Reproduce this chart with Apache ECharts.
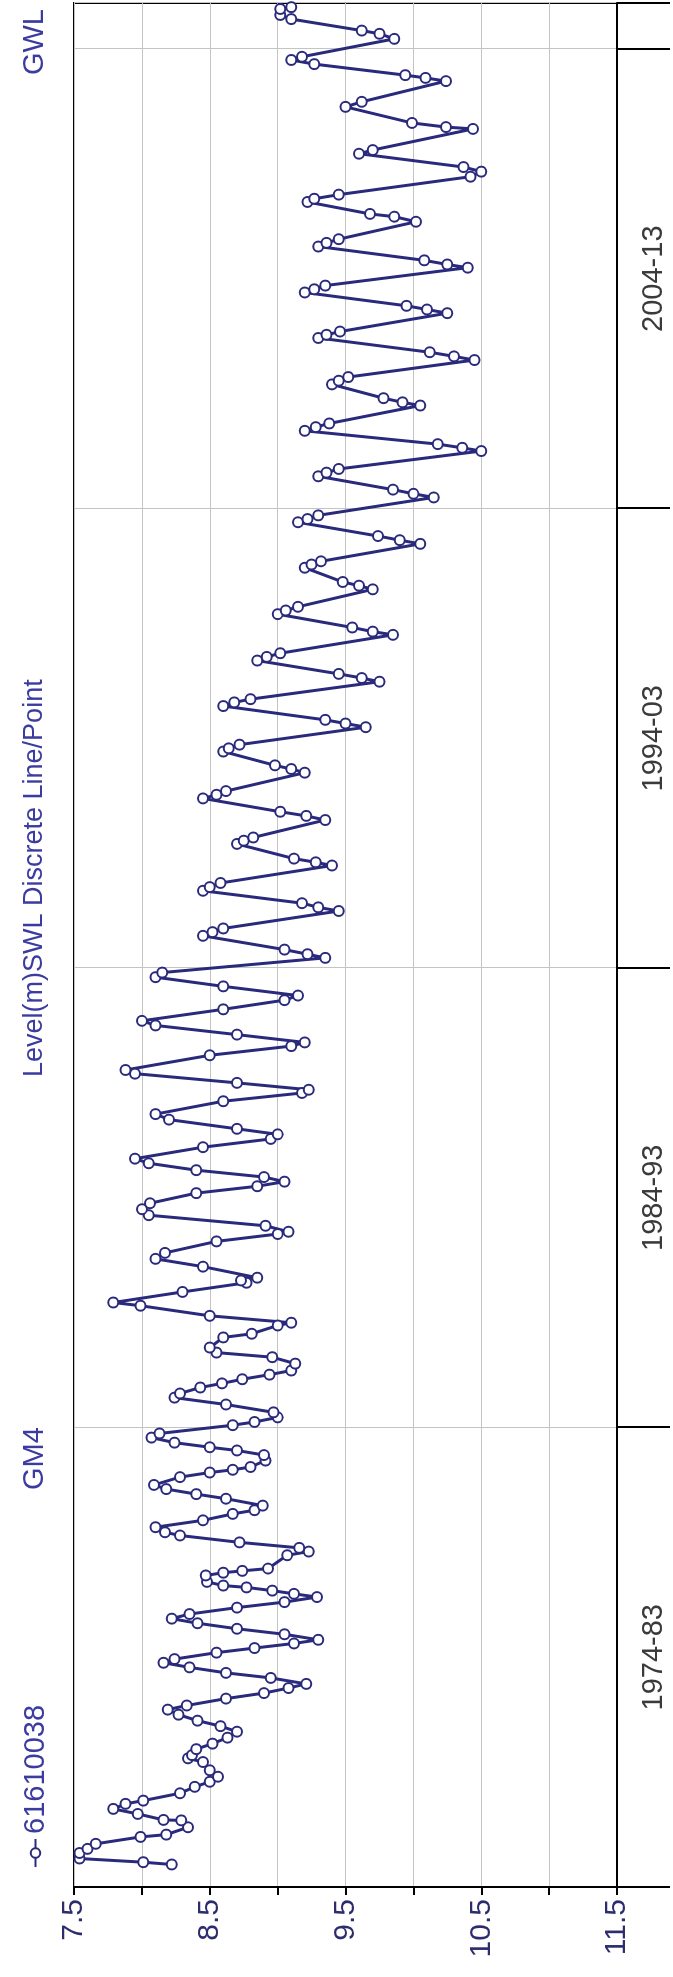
<!DOCTYPE html>
<html>
<head>
<meta charset="utf-8">
<script src="https://cdn.jsdelivr.net/npm/echarts@6/dist/echarts.min.js"></script>
<style>
  html, body { margin: 0; padding: 0; background: #fff; overflow: hidden; }
  #page { position: absolute; left: 0; top: 0; width: 673px; height: 1977px; overflow: hidden; background: #fff; }
  /* the hydrograph is laid out landscape and turned a quarter turn anticlockwise */
  #chart { position: absolute; left: 0; top: 0; width: 1977px; height: 673px;
           transform-origin: 0 0; transform: translate(0, 1977px) rotate(-90deg); }
</style>
</head>
<body>
<div id="page"><div id="chart"></div></div>
<script>
// ---- series: bore 61610038, standing water level (m below reference) ----
const siteName = '61610038';
const siteCode = 'GM4';
const variableName = 'Level(m)SWL Discrete Line/Point';
const groupName = 'GWL';

const startYear = 1974;
const endYear = 2015;
const decadeLabels = ['1974-83', '1984-93', '1994-03', '2004-13'];
const levelLabels = ['7.5', '8.5', '9.5', '10.5', '11.5'];

// sample times as decimal years
const sampleYears = [
  1974.49, 1974.54, 1974.62, 1974.74, 1974.83, 1974.94,
  1975.09, 1975.14, 1975.30, 1975.45, 1975.46, 1975.59, 1975.70, 1975.81, 1975.88,
  1976.04, 1976.18, 1976.29, 1976.40, 1976.54, 1976.72, 1976.80, 1976.87,
  1977.00, 1977.12, 1977.25, 1977.38, 1977.50, 1977.62, 1977.75, 1977.86, 1977.95,
  1978.10, 1978.22, 1978.33, 1978.42, 1978.55, 1978.66, 1978.78, 1978.88, 1978.96,
  1979.10, 1979.20, 1979.30, 1979.38, 1979.50, 1979.62, 1979.74, 1979.84, 1979.94,
  1980.08, 1980.20, 1980.31, 1980.38, 1980.45, 1980.52, 1980.56, 1980.64, 1980.78, 1980.84, 1980.88, 1980.93,
  1981.22, 1981.30, 1981.38, 1981.50, 1981.65, 1981.72, 1981.83,
  1981.98, 1982.12, 1982.20, 1982.30, 1982.45, 1982.55, 1982.66, 1982.75,
  1982.92, 1983.02, 1983.08, 1983.14, 1983.28, 1983.40, 1983.50, 1983.57, 1983.67, 1983.78, 1983.87,
  1984.05, 1984.12, 1984.22, 1984.33, 1984.50, 1984.65, 1984.74, 1984.87, 1984.96,
  1985.05, 1985.15, 1985.24, 1985.39, 1985.53, 1985.63, 1985.74, 1985.96,
  1986.04, 1986.22, 1986.28, 1986.43, 1986.65, 1986.72, 1986.95,
  1987.15, 1987.20, 1987.26, 1987.50, 1987.67, 1987.80,
  1988.05, 1988.21, 1988.26, 1988.39, 1988.62, 1988.75, 1988.88,
  1989.10, 1989.25, 1989.35, 1989.45, 1989.60, 1989.75, 1989.85,
  1990.10, 1990.28, 1990.38, 1990.50, 1990.70, 1990.82,
  1991.10, 1991.28, 1991.35, 1991.50, 1991.70, 1991.78,
  1992.10, 1992.30, 1992.38, 1992.55, 1992.75, 1992.85,
  1993.10, 1993.30, 1993.40, 1993.60, 1993.80, 1993.90,
  1994.22, 1994.30, 1994.40, 1994.70, 1994.78, 1994.86,
  1995.24, 1995.32, 1995.41, 1995.68, 1995.76, 1995.85,
  1996.23, 1996.30, 1996.38, 1996.70, 1996.77, 1996.84,
  1997.22, 1997.31, 1997.40, 1997.69, 1997.77, 1997.85,
  1998.25, 1998.33, 1998.41, 1998.71, 1998.78, 1998.86,
  1999.24, 1999.32, 1999.40, 1999.70, 1999.78, 1999.85,
  2000.23, 2000.31, 2000.40, 2000.69, 2000.77, 2000.85,
  2001.25, 2001.32, 2001.41, 2001.70, 2001.78, 2001.86,
  2002.24, 2002.32, 2002.40, 2002.71, 2002.78, 2002.85,
  2003.23, 2003.31, 2003.40, 2003.70, 2003.77, 2003.85,
  2004.24, 2004.32, 2004.41, 2004.70, 2004.78, 2004.86,
  2005.25, 2005.32, 2005.40, 2005.69, 2005.77, 2005.85,
  2006.24, 2006.31, 2006.40, 2006.70, 2006.78, 2006.86,
  2007.23, 2007.31, 2007.40, 2007.71, 2007.78, 2007.85,
  2008.25, 2008.33, 2008.41, 2008.70, 2008.77, 2008.85,
  2009.24, 2009.31, 2009.40, 2009.70, 2009.78, 2009.86,
  2010.24, 2010.35, 2010.41, 2010.67, 2010.74, 2010.83,
  2011.22, 2011.33, 2011.43, 2011.72, 2011.80,
  2012.26, 2012.30, 2012.39, 2012.74, 2012.85,
  2013.30, 2013.37, 2013.43, 2013.67, 2013.76, 2013.83,
  2014.22, 2014.33, 2014.40, 2014.65, 2014.74, 2014.87, 2014.91
];

// standing water level, metres (larger = deeper)
const sampleLevels = [
  8.22, 8.01, 7.54, 7.54, 7.60, 7.66,
  7.99, 8.18, 8.34, 8.29, 8.16, 7.97, 7.79, 7.88, 8.01,
  8.28, 8.39, 8.50, 8.56, 8.50, 8.45, 8.34, 8.37,
  8.40, 8.52, 8.63, 8.70, 8.58, 8.41, 8.27, 8.19, 8.33,
  8.62, 8.90, 9.08, 9.21, 8.95, 8.62, 8.35, 8.16, 8.24,
  8.55, 8.83, 9.12, 9.30, 9.05, 8.70, 8.41, 8.22, 8.35,
  8.70, 9.05, 9.29, 9.12, 8.96, 8.77, 8.60, 8.48, 8.47, 8.60, 8.74, 8.93,
  9.07, 9.23, 9.16, 8.72, 8.28, 8.17, 8.10,
  8.45, 8.67, 8.83, 8.89, 8.62, 8.40, 8.18, 8.09,
  8.28, 8.50, 8.67, 8.80, 8.91, 8.90, 8.70, 8.50, 8.24, 8.07, 8.13,
  8.67, 8.83, 9.00, 8.97, 8.62, 8.24, 8.28, 8.43, 8.59,
  8.74, 8.94, 9.10, 9.13, 8.96, 8.55, 8.50, 8.60,
  8.81, 9.00, 9.10, 8.50, 7.99, 7.79, 8.30,
  8.77, 8.73, 8.85, 8.45, 8.10, 8.17,
  8.55, 9.00, 9.08, 8.91, 8.05, 8.00, 8.06,
  8.40, 8.85, 9.05, 8.90, 8.40, 8.05, 7.95,
  8.45, 8.95, 9.00, 8.70, 8.20, 8.10,
  8.60, 9.18, 9.23, 8.70, 7.95, 7.88,
  8.50, 9.10, 9.20, 8.70, 8.10, 8.00,
  8.60, 9.05, 9.15, 8.60, 8.10, 8.15,
  9.35, 9.22, 9.05, 8.45, 8.52, 8.60,
  9.45, 9.30, 9.18, 8.45, 8.50, 8.58,
  9.40, 9.28, 9.12, 8.70, 8.75, 8.82,
  9.35, 9.21, 9.02, 8.45, 8.55, 8.62,
  9.20, 9.10, 8.98, 8.60, 8.64, 8.72,
  9.65, 9.50, 9.35, 8.60, 8.68, 8.80,
  9.75, 9.62, 9.45, 8.85, 8.92, 9.02,
  9.85, 9.70, 9.55, 9.00, 9.06, 9.15,
  9.70, 9.60, 9.48, 9.20, 9.25, 9.32,
  10.05, 9.90, 9.74, 9.15, 9.22, 9.30,
  10.15, 10.00, 9.85, 9.30, 9.36, 9.45,
  10.50, 10.36, 10.18, 9.20, 9.28, 9.38,
  10.05, 9.92, 9.78, 9.40, 9.45, 9.52,
  10.45, 10.30, 10.12, 9.30, 9.36, 9.46,
  10.25, 10.10, 9.95, 9.20, 9.27, 9.35,
  10.40, 10.25, 10.08, 9.30, 9.36, 9.45,
  10.02, 9.86, 9.68, 9.22, 9.27, 9.45,
  10.42, 10.50, 10.37, 9.60, 9.70,
  10.44, 10.24, 9.99, 9.50, 9.62,
  10.24, 10.09, 9.94, 9.27, 9.10, 9.18,
  9.86, 9.75, 9.62, 9.10, 9.02, 9.02, 9.10
];

// ---- styling ----
const FONT = '"Liberation Sans", Arial, sans-serif';
const lineColor = '#2a2a7c';
const legendColor = '#3b3ba0';
const levelLabelColor = '#2d2d6e';
const dateLabelColor = '#3a3a3a';
const gridColor = '#c4c4c4';

const points = sampleYears.map((y, i) => [y - startYear, sampleLevels[i]]);
const span = endYear - startYear;

const chart = echarts.init(document.getElementById('chart'), null, { renderer: 'canvas' });

chart.setOption({
  backgroundColor: '#ffffff',
  animation: false,
  textStyle: { fontFamily: FONT },
  title: [
    { text: siteCode, left: 482, top: 15,
      textStyle: { fontFamily: FONT, fontSize: 29, fontWeight: 'normal', color: legendColor } },
    { text: variableName, left: 895, top: 16,
      textStyle: { fontFamily: FONT, fontSize: 27, fontWeight: 'normal', color: legendColor } },
    { text: groupName, right: 4, top: 15,
      textStyle: { fontFamily: FONT, fontSize: 29, fontWeight: 'normal', color: legendColor } }
  ],
  legend: {
    left: 104, top: 16,
    itemWidth: 28, itemHeight: 12, itemGap: 10,
    textStyle: { fontFamily: FONT, fontSize: 29, color: legendColor },
    data: [siteName]
  },
  grid: {
    left: 90, right: 3, top: 74, bottom: 56,
    show: true, borderColor: '#000', borderWidth: 2, backgroundColor: '#fff',
    containLabel: false
  },
  xAxis: [
    {
      // decade boundaries: long outward ticks and horizontal grid lines
      type: 'value', min: 0, max: span, interval: 10, position: 'bottom',
      axisLine: { show: true, lineStyle: { color: '#000', width: 2 } },
      axisTick: { show: true, inside: false, length: 53, lineStyle: { color: '#000', width: 2 } },
      splitLine: { show: true, lineStyle: { color: gridColor, width: 1 } },
      axisLabel: { show: false }
    },
    {
      // decade names, centred between the boundaries
      type: 'value', min: 0, max: span, interval: 5, position: 'bottom',
      axisLine: { show: false }, axisTick: { show: false }, splitLine: { show: false },
      axisLabel: {
        show: true, margin: 22, fontFamily: FONT, fontSize: 29, color: dateLabelColor,
        formatter: v => (v % 10 === 5 && v < 40) ? decadeLabels[(v - 5) / 10] : ''
      }
    }
  ],
  yAxis: {
    type: 'value', inverse: true, min: 7.5, max: 11.5, interval: 0.5,
    axisLine: { show: true, lineStyle: { color: '#000', width: 2 } },
    axisTick: { show: true, inside: false, length: 8, lineStyle: { color: '#000', width: 2 } },
    splitLine: { show: true, lineStyle: { color: gridColor, width: 1 } },
    axisLabel: {
      show: true, margin: 12, fontFamily: FONT, fontSize: 30, color: levelLabelColor,
      formatter: v => {
        const s = v.toFixed(1);
        return levelLabels.indexOf(s) >= 0 ? s : '';
      }
    }
  },
  series: [{
    name: siteName,
    type: 'line',
    xAxisIndex: 0,
    data: points,
    symbol: 'circle',
    symbolSize: 10,
    showSymbol: true,
    lineStyle: { color: lineColor, width: 3 },
    itemStyle: { color: '#ffffff', borderColor: lineColor, borderWidth: 2 },
    emphasis: { disabled: true },
    z: 3
  }]
});
</script>
</body>
</html>
